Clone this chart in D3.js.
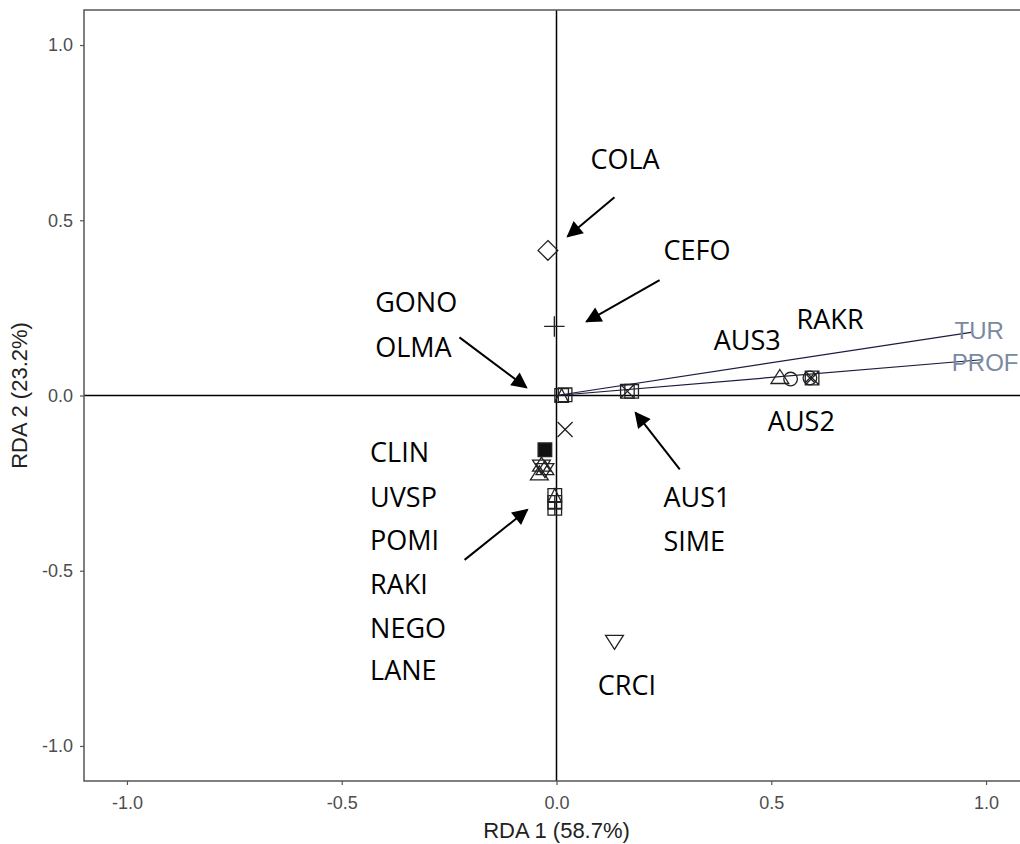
<!DOCTYPE html>
<html>
<head>
<meta charset="utf-8">
<script src="https://cdn.jsdelivr.net/npm/d3@7"></script>
<style>
  body { margin: 0; background: #fff; }
  svg { display: block; }
</style>
</head>
<body>
<svg width="1020" height="844"></svg>
<script>
// Species scores (RDA1, RDA2) and ggplot shape codes
let species_x = [-0.02, -0.005, 0.012, 0.02, 0.165, 0.175, 0.02, -0.027, -0.035, -0.027, -0.04, -0.004, -0.004, -0.004, 0.135, 0.52, 0.545, 0.59, 0.595];
let species_y = [0.414, 0.197, 0.0, 0.002, 0.012, 0.012, -0.097, -0.155, -0.2, -0.21, -0.225, -0.285, -0.305, -0.322, -0.70, 0.05, 0.047, 0.05, 0.05];
let species_shape = [5, 3, 14, 0, 7, 0, 4, 15, 11, 11, 2, 14, 12, 12, 6, 2, 1, 13, 7];

// Environmental vectors and their label spots
let env_names = ["TUR", "PROF"];
let env_x = [0.965, 0.99];
let env_y = [0.18, 0.102];
let env_label_x = [0.984, 0.998];
let env_label_y = [0.185, 0.094];

// Species name labels (left x, baseline y in data units)
let label_text = ["COLA", "CEFO", "GONO", "OLMA", "RAKR", "AUS3", "AUS2", "AUS1", "SIME",
                  "CLIN", "UVSP", "POMI", "RAKI", "NEGO", "LANE", "CRCI"];
let label_x = [0.079, 0.249, -0.422, -0.422, 0.559, 0.366, 0.492, 0.249, 0.249,
               -0.434, -0.434, -0.434, -0.434, -0.434, -0.434, 0.096];
let label_y = [0.646, 0.386, 0.237, 0.109, 0.189, 0.131, -0.1, -0.317, -0.443,
               -0.189, -0.317, -0.44, -0.566, -0.691, -0.811, -0.854];

// Pointer arrows (from -> to)
let arrow_x1 = [0.135, 0.24, -0.226, 0.287, -0.214];
let arrow_y1 = [0.566, 0.329, 0.166, -0.211, -0.469];
let arrow_x2 = [0.026, 0.07, -0.07, 0.184, -0.068];
let arrow_y2 = [0.454, 0.211, 0.023, -0.049, -0.326];

let ticks = [-1.0, -0.5, 0.0, 0.5, 1.0];

let svg = d3.select("svg");
let margin = {left: 84, top: 10};
let w = 945, h = 771;

let x = d3.scaleLinear().domain([-1.1, 1.1]).range([margin.left, margin.left + w]);
let y = d3.scaleLinear().domain([-1.1, 1.1]).range([margin.top + h, margin.top]);

let defs = svg.append("defs");
defs.append("marker")
    .attr("id", "head")
    .attr("viewBox", "0 0 10 10")
    .attr("refX", 9).attr("refY", 5)
    .attr("markerWidth", 9).attr("markerHeight", 8)
    .attr("markerUnits", "strokeWidth")
    .attr("orient", "auto")
  .append("path")
    .attr("d", "M0,0 L10,5 L0,10 Z")
    .attr("fill", "#000");

// Zero lines
svg.append("line")
    .attr("x1", x(0)).attr("x2", x(0))
    .attr("y1", y(1.1)).attr("y2", y(-1.1))
    .style("stroke", "#000").style("stroke-width", 1.5);
svg.append("line")
    .attr("x1", x(-1.1)).attr("x2", x(1.1))
    .attr("y1", y(0)).attr("y2", y(0))
    .style("stroke", "#000").style("stroke-width", 1.5);

// Axes (plain hyphen for negatives, like R)
let fmt = function (d) { return d.toFixed(1); };
let xAxis = svg.append("g")
    .attr("transform", "translate(0," + (margin.top + h) + ")")
    .call(d3.axisBottom(x).tickValues(ticks).tickFormat(fmt).tickSize(4).tickPadding(11));
let yAxis = svg.append("g")
    .attr("transform", "translate(" + margin.left + ",0)")
    .call(d3.axisLeft(y).tickValues(ticks).tickFormat(fmt).tickSize(4).tickPadding(7));

[xAxis, yAxis].forEach(function (g) {
    g.select(".domain").remove();
    g.selectAll(".tick line").style("stroke", "#555").style("stroke-width", 1.2);
    g.selectAll(".tick text")
        .style("font-family", "Liberation Sans, Arial, sans-serif")
        .style("font-size", "18px")
        .style("fill", "#4d4d4d");
});

// Panel border
svg.append("rect")
    .attr("x", margin.left).attr("y", margin.top)
    .attr("width", w).attr("height", h)
    .style("fill", "none").style("stroke", "#555").style("stroke-width", 1.5);

// Axis titles
svg.append("text")
    .attr("x", x(0)).attr("y", 838)
    .attr("text-anchor", "middle")
    .style("font-family", "Liberation Sans, Arial, sans-serif")
    .style("font-size", "22px").style("fill", "#222")
    .text("RDA 1 (58.7%)");
svg.append("text")
    .attr("transform", "translate(27," + y(0) + ") rotate(-90)")
    .attr("text-anchor", "middle")
    .style("font-family", "Liberation Sans, Arial, sans-serif")
    .style("font-size", "22px").style("fill", "#222")
    .text("RDA 2 (23.2%)");

// Environmental vectors
env_names.forEach(function (name, i) {
    svg.append("line")
        .attr("x1", x(0)).attr("y1", y(0))
        .attr("x2", x(env_x[i])).attr("y2", y(env_y[i]))
        .style("stroke", "#1c1c40").style("stroke-width", 1.2);
});

// Shape paths, ggplot style
let shapePath = function (code, r) {
    let sq = "M" + (-r) + "," + (-r) + "h" + 2 * r + "v" + 2 * r + "h" + (-2 * r) + "Z";
    let circ = "M" + r + ",0A" + r + "," + r + " 0 1,1 " + (-r) + ",0A" + r + "," + r + " 0 1,1 " + r + ",0Z";
    let plus = "M" + (-r) + ",0H" + r + "M0," + (-r) + "V" + r;
    let cross = "M" + (-r) + "," + (-r) + "L" + r + "," + r + "M" + (-r) + "," + r + "L" + r + "," + (-r);
    let t = r * 1.25;
    let triUp = "M0," + (-t) + "L" + t * 1.05 + "," + t * 0.65 + "L" + (-t * 1.05) + "," + t * 0.65 + "Z";
    let triDn = "M0," + t + "L" + t * 1.05 + "," + (-t * 0.65) + "L" + (-t * 1.05) + "," + (-t * 0.65) + "Z";
    if (code == 0 || code == 15) return sq;
    if (code == 1) return circ;
    if (code == 2) return triUp;
    if (code == 3) return "M" + (-r * 1.5) + ",0H" + r * 1.5 + "M0," + (-r * 1.5) + "V" + r * 1.5;
    if (code == 4) return "M" + (-r * 1.1) + "," + (-r * 1.1) + "L" + r * 1.1 + "," + r * 1.1 + "M" + (-r * 1.1) + "," + r * 1.1 + "L" + r * 1.1 + "," + (-r * 1.1);
    if (code == 5) return "M0," + (-r * 1.45) + "L" + r * 1.45 + ",0L0," + r * 1.45 + "L" + (-r * 1.45) + ",0Z";
    if (code == 6) return triDn;
    if (code == 7) return sq + cross;
    if (code == 11) return triUp + triDn;
    if (code == 12) return sq + plus;
    if (code == 13) return circ + "M" + (-r * 0.7) + "," + (-r * 0.7) + "L" + r * 0.7 + "," + r * 0.7 + "M" + (-r * 0.7) + "," + r * 0.7 + "L" + r * 0.7 + "," + (-r * 0.7);
    if (code == 14) return sq + "M" + (-r) + "," + r + "L0," + (-r) + "L" + r + "," + r;
    return circ;
};

svg.append("g").selectAll("path")
    .data(d3.range(species_x.length))
    .join("path")
    .attr("transform", function (i) { return "translate(" + x(species_x[i]) + "," + y(species_y[i]) + ")"; })
    .attr("d", function (i) { return shapePath(species_shape[i], 6.8); })
    .style("fill", function (i) { return species_shape[i] == 15 ? "#111" : "none"; })
    .style("stroke", "#222")
    .style("stroke-width", 1.3);

// Environmental labels
env_names.forEach(function (name, i) {
    svg.append("text")
        .attr("x", x(env_label_x[i])).attr("y", y(env_label_y[i]))
        .attr("dy", "0.35em")
        .attr("text-anchor", "middle")
        .style("font-family", "Liberation Sans, Arial, sans-serif")
        .style("font-size", "24px").style("fill", "#7a8aa2")
        .text(name);
});

// Pointer arrows
svg.append("g").selectAll("line")
    .data(d3.range(arrow_x1.length))
    .join("line")
    .attr("x1", function (i) { return x(arrow_x1[i]); })
    .attr("y1", function (i) { return y(arrow_y1[i]); })
    .attr("x2", function (i) { return x(arrow_x2[i]); })
    .attr("y2", function (i) { return y(arrow_y2[i]); })
    .style("stroke", "#000").style("stroke-width", 2)
    .attr("marker-end", "url(#head)");

// Species labels
svg.append("g").selectAll("text")
    .data(label_text)
    .join("text")
    .attr("x", function (d, i) { return x(label_x[i]); })
    .attr("y", function (d, i) { return y(label_y[i]); })
    .style("font-family", "Open Sans, sans-serif")
    .style("font-size", "27px").style("fill", "#000")
    .text(function (d) { return d; });
</script>
</body>
</html>
